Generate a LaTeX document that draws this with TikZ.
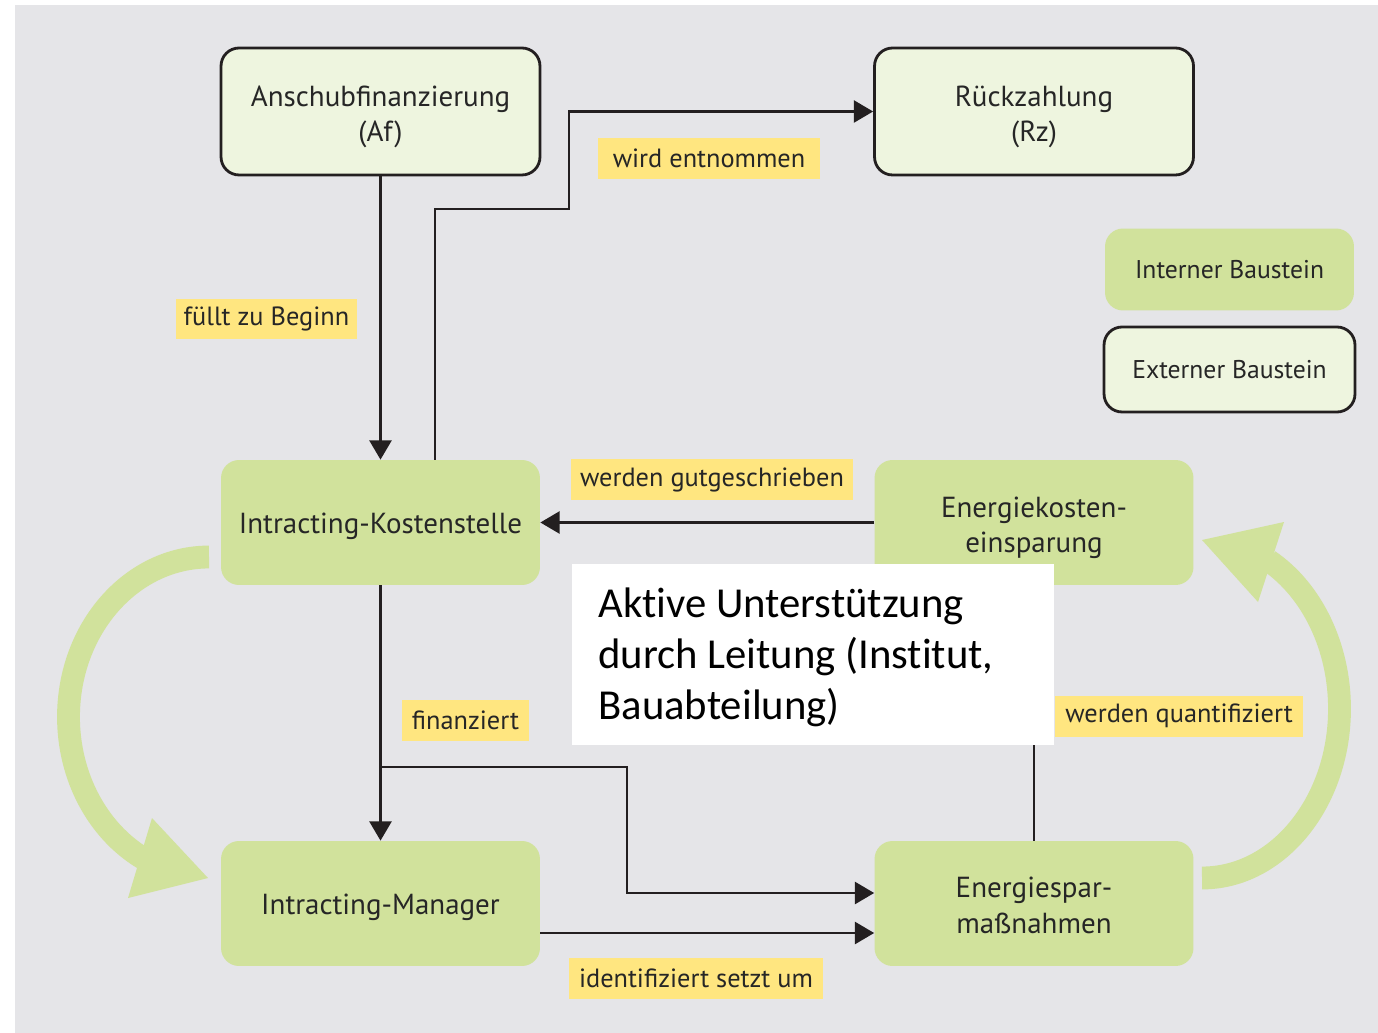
\documentclass[tikz,border=0pt]{standalone}
\usepackage{fontspec}
\setmainfont{PT Sans}
\newfontfamily\calibri[Ligatures=NoCommon]{Carlito}
\usetikzlibrary{arrows.meta,calc}
\definecolor{bg}{HTML}{E5E5E8}
\definecolor{gfill}{HTML}{D1E29C}
\definecolor{lfill}{HTML}{EEF5DF}
\definecolor{ylab}{HTML}{FFE680}
\definecolor{ink}{HTML}{231F20}
\definecolor{txt}{HTML}{262626}
\newcommand\topstrut{\rule{0pt}{1.07em}}
\newcommand\botstrut{\rule[-0.24em]{0pt}{0pt}}
\begin{document}
\begin{tikzpicture}[x=0.02cm,y=-0.02cm,
 intbox/.style={fill=gfill, rounded corners=0.36cm, minimum width=6.38cm, minimum height=2.5cm, align=center, font=\fontsize{16.5}{20}\selectfont, text=txt, inner sep=0pt},
 onebox/.style={execute at begin node={\rule{0pt}{0.95em}}},
 extbox/.style={intbox, fill=lfill, draw=ink, line width=1.6pt},
 legend/.style={font=\fontsize{14.6}{18}\selectfont},
 lab/.style={fill=ylab, minimum height=0.82cm, inner sep=0pt, font=\fontsize{15}{16}\selectfont, text=txt},
 conn/.style={draw=ink, line width=1.6pt},
 arr/.style={conn, -{Triangle[length=11pt,width=12.5pt]}},
 bigarr/.style={draw=gfill, line width=13pt},
 wtext/.style={anchor=base west, inner sep=0pt, font=\calibri\fontsize{24.3}{29}\selectfont, text=black},
]
\useasboundingbox (0,0) rectangle (1378,1033);
\fill[white] (0,0) rectangle (1378,1033);
\fill[bg] (15,5) rectangle (1378,1033);

% big green cycle arrows
\draw[bigarr] (209,557) arc[start angle=-90, end angle=-242, x radius=140.5, y radius=160];
\fill[gfill] (208,878) -- (152,818) -- (128,898) -- cycle;
\draw[bigarr] (1202,878) arc[start angle=90, end angle=-61, x radius=137.5, y radius=169.3];
\fill[gfill] (1202,540) -- (1284,522) -- (1258,602) -- cycle;

% boxes
\node[extbox, minimum height=2.54cm] (Af) at (380.5,111.5) {\topstrut Anschubfinanzierung\\(Af)};
\node[extbox, minimum height=2.54cm] (Rz) at (1034,111.5) {\topstrut Rückzahlung\\(Rz)};
\node[intbox, legend, minimum width=4.98cm, minimum height=1.64cm] (Int) at (1229.5,269.5) {Interner Baustein};
\node[extbox, legend, minimum width=5.02cm, minimum height=1.7cm] (Ext) at (1229.5,369.5) {Externer Baustein};
\node[intbox, onebox] (KS) at (380.5,522.5) {Intracting-Kostenstelle};
\node[intbox] (EK) at (1034,522.5) {\topstrut Energiekosten-\\einsparung};
\node[intbox, onebox] (M) at (380.5,903.5) {Intracting-Manager};
\node[intbox] (ES) at (1034,903.5) {\topstrut Energiespar-\\maßnahmen\botstrut};

% connectors
\coordinate (k1) at (435,209);
\coordinate (k2) at (569,111.5);
\coordinate (b0) at (380.5,767);
\coordinate (b1) at (627,767);
\draw[arr] (Af.south) -- (KS.north);
\draw[arr] (KS.north -| k1) -- (k1) -| (k2) -- (Rz.west);
\draw[arr] (EK.west) -- (KS.east);
\draw[arr] (KS.south) -- (M.north);
\draw[arr] (b0) -- (b1) |- ($(ES.west)+(0,-10.5)$);
\draw[arr] ($(M.east)+(0,29.5)$) -- ($(ES.west)+(0,29.5)$);
\draw[conn] (ES.north) -- (EK.south);

% labels
\node[lab, minimum width=3.62cm] (l1) at (266.5,319) {füllt zu Beginn};
\node[lab, minimum width=4.44cm] (l2) at (709,158.5) {wird entnommen};
\node[lab, minimum width=5.64cm] (l3) at (712,479.5) {werden gutgeschrieben};
\node[lab, minimum width=2.54cm] (l4) at (465.5,720.5) {finanziert};
\node[lab, minimum width=4.96cm] (l5) at (1179,716) {werden quantifiziert};
\node[lab, minimum width=5.08cm] (l6) at (696,978) {identifiziert setzt um};

% white overlay box
\node[fill=white, minimum width=9.64cm, minimum height=3.62cm, inner sep=0pt] (W) at (813,654.5) {};
\node[wtext] (Wt1) at (598,617) {Aktive Unterstützung};
\node[wtext] (Wt2) at (598,668.5) {durch Leitung (Institut,};
\node[wtext] (Wt3) at (598,719.5) {Bauabteilung)};
\end{tikzpicture}
\end{document}
